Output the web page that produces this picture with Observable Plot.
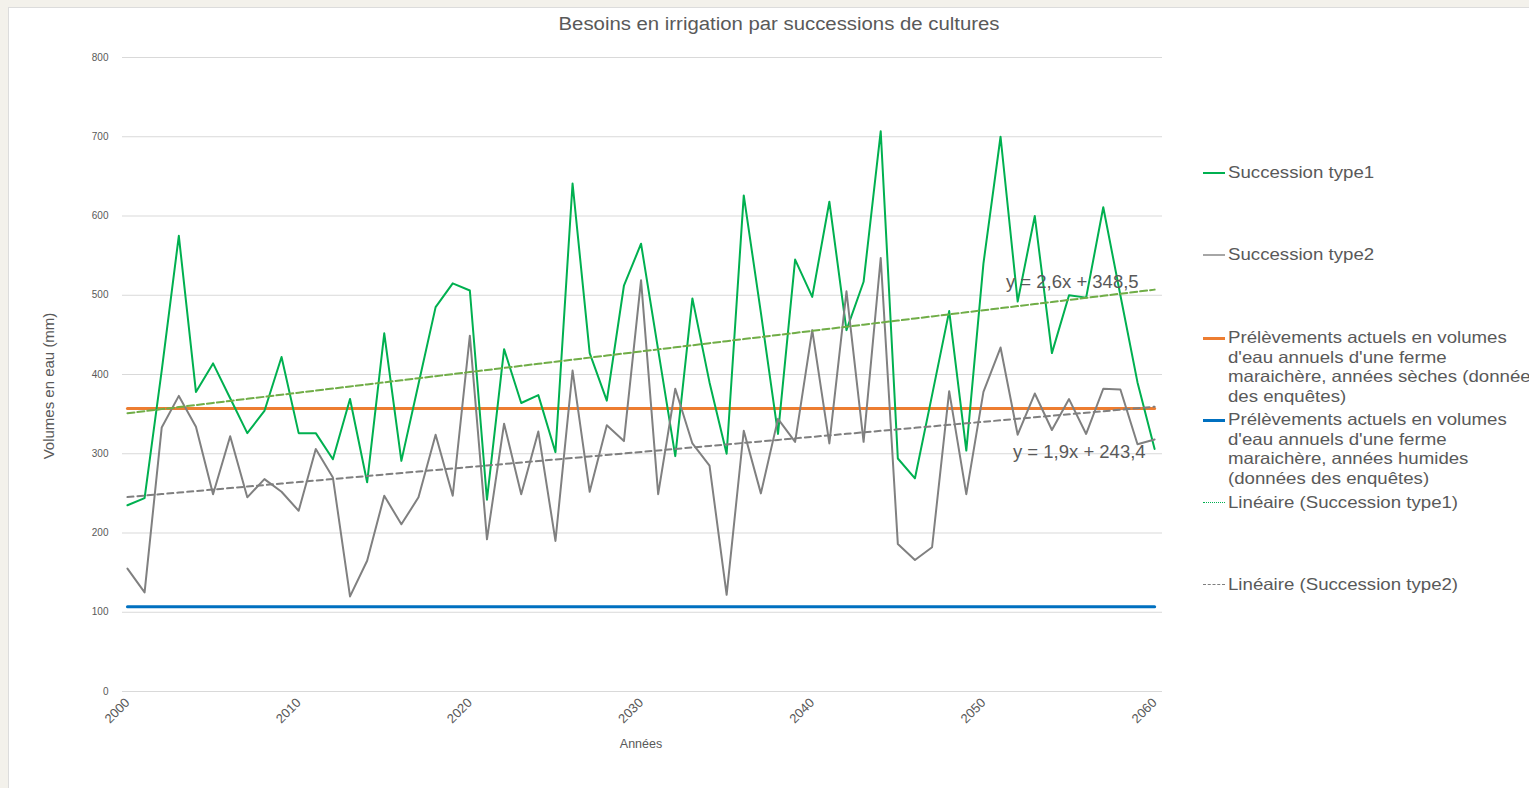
<!DOCTYPE html>
<html>
<head>
<meta charset="utf-8">
<script src="https://cdn.jsdelivr.net/npm/d3@7"></script>
<script src="https://cdn.jsdelivr.net/npm/@observablehq/plot@0.6"></script>
<style>
  html, body { margin: 0; padding: 0; width: 1529px; height: 788px; overflow: hidden; background: #f3f1eb; }
  #frame { position: absolute; left: 8px; top: 7px; width: 1521px; height: 781px; background: #fff; border-left: 1px solid #dcdcdc; border-top: 1px solid #dcdcdc; }
  #chart { position: absolute; left: 0; top: 0; }
  .title { position: absolute; left: 779px; top: 14px; transform: translateX(-50%) scaleX(1.13); white-space: nowrap;
           font-family: "Liberation Sans", Arial, sans-serif; font-size: 18px; color: #595959; }
  .leg { position: absolute; left: 1228px; font-family: "Liberation Sans", Arial, sans-serif; font-size: 16.5px; line-height: 19.5px;
         color: #595959; white-space: nowrap; transform: scaleX(1.13); transform-origin: left center; }
  .sw { position: absolute; left: 1203px; width: 22px; height: 0; }
  .ylab { position: absolute; left: 48px; top: 386px; transform: translate(-50%, -50%) rotate(-90deg); white-space: nowrap;
          font-family: "Liberation Sans", Arial, sans-serif; font-size: 15px; color: #595959; }
  .xlab { position: absolute; left: 641px; top: 737px; transform: translateX(-50%); font-family: "Liberation Sans", Arial, sans-serif; font-size: 12.5px; color: #595959; }
</style>
</head>
<body>
<div id="frame"></div>
<div id="chart"></div>
<script>
// ---- data ----
const years = d3.range(2000, 2061);
const successionType1 = [235, 244, 405, 575, 378, 414, 370, 326, 354, 422,
  326, 326, 293, 369, 264, 452, 291, 388, 485, 515,
  506, 242, 432, 364, 374, 302, 641, 427, 367, 512,
  565, 431, 297, 496, 390, 300, 626, 478, 325, 545,
  498, 618, 456, 517, 707, 294, 269, 374, 480, 304,
  540, 700, 492, 600, 427, 500, 497, 611, 500, 390, 306];
const successionType2 = [155, 125, 333, 373, 334, 249, 322, 245, 268, 252,
  228, 306, 270, 120, 165, 247, 211, 245, 324, 247,
  449, 192, 338, 249, 328, 190, 405, 252, 336, 316,
  519, 249, 382, 313, 285, 122, 329, 250, 344, 315,
  456, 313, 505, 315, 547, 186, 166, 182, 379, 249,
  378, 434, 324, 376, 330, 369, 325, 382, 381, 312, 318];
const prelevementSeche = 357;
const prelevementHumide = 107;
const trend1 = { slope: 2.6, intercept: 348.5, label: "y = 2,6x + 348,5" };
const trend2 = { slope: 1.9, intercept: 243.4, label: "y = 1,9x + 243,4" };
const xTicks = [2000, 2010, 2020, 2030, 2040, 2050, 2060];
const yTicks = [0, 100, 200, 300, 400, 500, 600, 700, 800];
const legendItems = [
  "Succession type1",
  "Succession type2",
  "Prélèvements actuels en volumes<br>d'eau annuels d'une ferme<br>maraichère, années sèches (données<br>des enquêtes)",
  "Prélèvements actuels en volumes<br>d'eau annuels d'une ferme<br>maraichère, années humides<br>(données des enquêtes)",
  "Linéaire (Succession type1)",
  "Linéaire (Succession type2)"
];

// ---- derived tables ----
const rows = years.map((yr, i) => ({
  year: yr,
  s1: successionType1[i],
  s2: successionType2[i],
  seche: prelevementSeche,
  humide: prelevementHumide,
  t1: trend1.intercept + trend1.slope * (i + 1),
  t2: trend2.intercept + trend2.slope * (i + 1)
}));
const last = rows[rows.length - 1];

const font = "Liberation Sans, Arial, sans-serif";
const plot = Plot.plot({
  width: 1529,
  height: 788,
  marginLeft: 122,
  marginRight: 367,
  marginTop: 57,
  marginBottom: 97,
  style: { fontFamily: font, color: "#595959", background: "transparent", overflow: "visible" },
  x: { domain: [1999.71, 2060.46] },
  y: { domain: [0, 800] },
  marks: [
    Plot.gridY(yTicks, { stroke: "#d9d9d9", strokeOpacity: 1, strokeWidth: 1 }),
    Plot.axisY(yTicks, { tickSize: 0, tickPadding: 14, fontSize: 10, label: null, fill: "#595959" }),
    Plot.axisX(xTicks, { tickSize: 0, tickPadding: 9, tickRotate: -45, fontSize: 13, label: null, tickFormat: d => String(d), fill: "#595959" }),
    Plot.line(rows, { x: "year", y: "seche", stroke: "#ED7D31", strokeWidth: 3 }),
    Plot.line(rows, { x: "year", y: "humide", stroke: "#0070C0", strokeWidth: 3 }),
    Plot.line(rows, { x: "year", y: "s1", stroke: "#00B050", strokeWidth: 2 }),
    Plot.line(rows, { x: "year", y: "s2", stroke: "#808080", strokeWidth: 2 }),
    Plot.line(rows, { x: "year", y: "t1", stroke: "#70AD47", strokeWidth: 2, strokeDasharray: "7,3" }),
    Plot.line(rows, { x: "year", y: "t2", stroke: "#7F7F7F", strokeWidth: 2, strokeDasharray: "6,4" }),
    Plot.text([last], { x: "year", y: "t1", text: () => trend1.label, textAnchor: "end", dx: -16, dy: -8, fontSize: 18.5, fill: "#595959" }),
    Plot.text([last], { x: "year", y: "t2", text: () => trend2.label, textAnchor: "end", dx: -9, dy: 45, fontSize: 18.5, fill: "#595959" })
  ]
});
document.getElementById("chart").appendChild(plot);

// ---- title, axis labels, legend ----
const body = document.body;
function add(cls, html, css) {
  const d = document.createElement("div");
  d.className = cls;
  d.innerHTML = html;
  Object.assign(d.style, css || {});
  body.appendChild(d);
  return d;
}
add("title", "Besoins en irrigation par successions de cultures");
add("ylab", "Volumes en eau (mm)");
add("xlab", "Années");

const legendCenters = [173, 255, 338, 420, 503, 585];
const swatches = [
  "2px solid #00B050",
  "2px solid #A6A6A6",
  "3px solid #ED7D31",
  "3px solid #0070C0",
  "1px dotted #00B050",
  "1.5px dashed #7F7F7F"
];
legendItems.forEach((txt, i) => {
  add("leg", txt, { top: (legendCenters[i] - 9.75) + "px" });
  add("sw", "", { top: (legendCenters[i] - 1) + "px", borderTop: swatches[i] });
});
</script>
</body>
</html>
